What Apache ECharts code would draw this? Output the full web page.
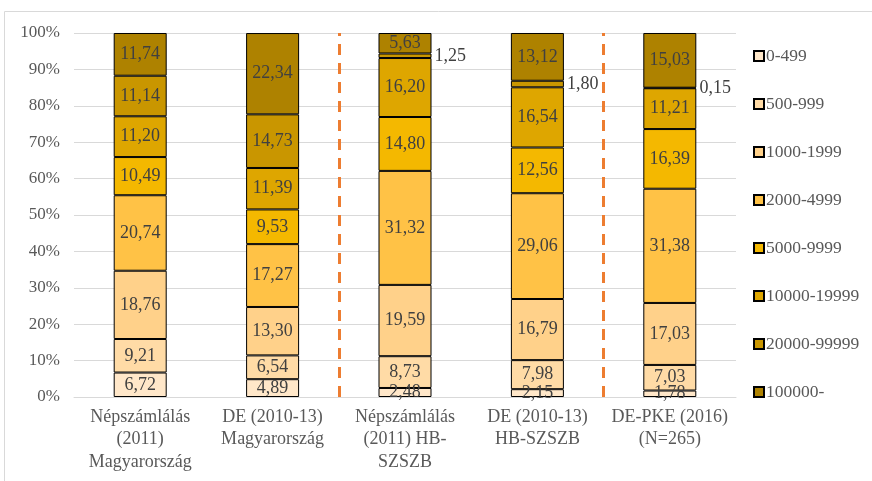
<!DOCTYPE html>
<html>
<head>
<meta charset="utf-8">
<script src="https://cdn.jsdelivr.net/npm/echarts@6/dist/echarts.min.js"></script>
<style>
  html, body { margin: 0; padding: 0; background: #fff; }
  #chart { width: 872px; height: 481px; }
</style>
</head>
<body>
<div id="chart"></div>
<script>
// kategóriák (x tengely)
var categories = [
  'Népszámlálás\n(2011)\nMagyarország',
  'DE (2010-13)\nMagyarország',
  'Népszámlálás\n(2011) HB-\nSZSZB',
  'DE (2010-13)\nHB-SZSZB',
  'DE-PKE (2016)\n(N=265)'
];
var seriesNames = ['0-499', '500-999', '1000-1999', '2000-4999', '5000-9999', '10000-19999', '20000-99999', '100000-'];

// értékek sorozatonként (%)
var s0_499       = [6.72, 4.89, 2.48, 2.15, 1.78];
var s500_999     = [9.21, 6.54, 8.73, 7.98, 7.03];
var s1000_1999   = [18.76, 13.30, 19.59, 16.79, 17.03];
var s2000_4999   = [20.74, 17.27, 31.32, 29.06, 31.38];
var s5000_9999   = [10.49, 9.53, 14.80, 12.56, 16.39];
var s10000_19999 = [11.20, 11.39, 16.20, 16.54, 11.21];
var s20000_99999 = [11.14, 14.73, 1.25, 1.80, 0.15];
var s100000      = [11.74, 22.34, 5.63, 13.12, 15.03];

var yTicks = [0, 10, 20, 30, 40, 50, 60, 70, 80, 90, 100];
var dividers = [2, 4]; // szaggatott vonalak a kategóriák között

var values = [s0_499, s500_999, s1000_1999, s2000_4999, s5000_9999, s10000_19999, s20000_99999, s100000];
var colors = ['#FFE7C9', '#FFDBA6', '#FFD18A', '#FFC246', '#F4B800', '#DEA600', '#C99600', '#AE8200'];

var font = '"Liberation Serif", "DejaVu Serif", serif';

var series = [];
for (var i = 0; i < values.length; i++) {
  var d = [];
  for (var j = 0; j < values[i].length; j++) {
    var v = values[i][j];
    var item = { value: v };
    if (i == 6 && v < 5) {
      item.label = { position: 'right', color: '#404040', distance: 3 };
    }
    d.push(item);
  }
  series.push({
    name: seriesNames[i],
    type: 'bar',
    stack: 'total',
    barWidth: 53,
    data: d,
    itemStyle: { color: colors[i], borderColor: '#000', borderWidth: 1 },
    label: {
      show: true,
      position: 'inside',
      fontFamily: font,
      fontSize: 18,
      color: '#404040',
      formatter: function (p) { return p.value.toFixed(2).replace('.', ','); }
    },
    emphasis: { disabled: true }
  });
}

// elválasztó vonalak
series.push({
  type: 'line',
  xAxisIndex: 1,
  data: [],
  silent: true,
  markLine: {
    symbol: 'none',
    silent: true,
    label: { show: false },
    lineStyle: { color: '#ED7D31', width: 3, type: [11, 8] },
    data: dividers.map(function (x) { return { xAxis: x }; })
  }
});

var chart = echarts.init(document.getElementById('chart'));
chart.setOption({
  animation: false,
  textStyle: { fontFamily: font },
  graphic: [{
    type: 'rect',
    shape: { x: 4.5, y: 11.5, width: 900, height: 500 },
    style: { fill: 'none', stroke: '#d9d9d9', lineWidth: 1 },
    z: -10
  }],
  grid: { left: 74, right: 136, top: 33, bottom: 84, containLabel: false },
  legend: {
    orient: 'vertical',
    left: 748,
    top: 42,
    itemWidth: 10,
    itemHeight: 10,
    itemGap: 30,
    icon: 'rect',
    textStyle: { fontFamily: font, fontSize: 17.5, color: '#595959', padding: [0, 0, 0, -3] },
    data: seriesNames
  },
  xAxis: [{
    type: 'category',
    data: categories,
    axisTick: { show: false },
    axisLine: { lineStyle: { color: '#d9d9d9', width: 1 } },
    axisLabel: { fontFamily: font, fontSize: 18, color: '#595959', lineHeight: 22.5, margin: 9, interval: 0 }
  }, {
    type: 'value',
    min: 0,
    max: 5,
    show: false
  }],
  yAxis: {
    type: 'value',
    min: yTicks[0],
    max: yTicks[yTicks.length - 1],
    interval: 10,
    axisLine: { show: false },
    axisTick: { show: false },
    splitLine: { lineStyle: { color: '#d9d9d9', width: 1 } },
    axisLabel: { formatter: '{value}%', fontFamily: font, fontSize: 17, color: '#595959', margin: 14 }
  },
  series: series
});
</script>
</body>
</html>
